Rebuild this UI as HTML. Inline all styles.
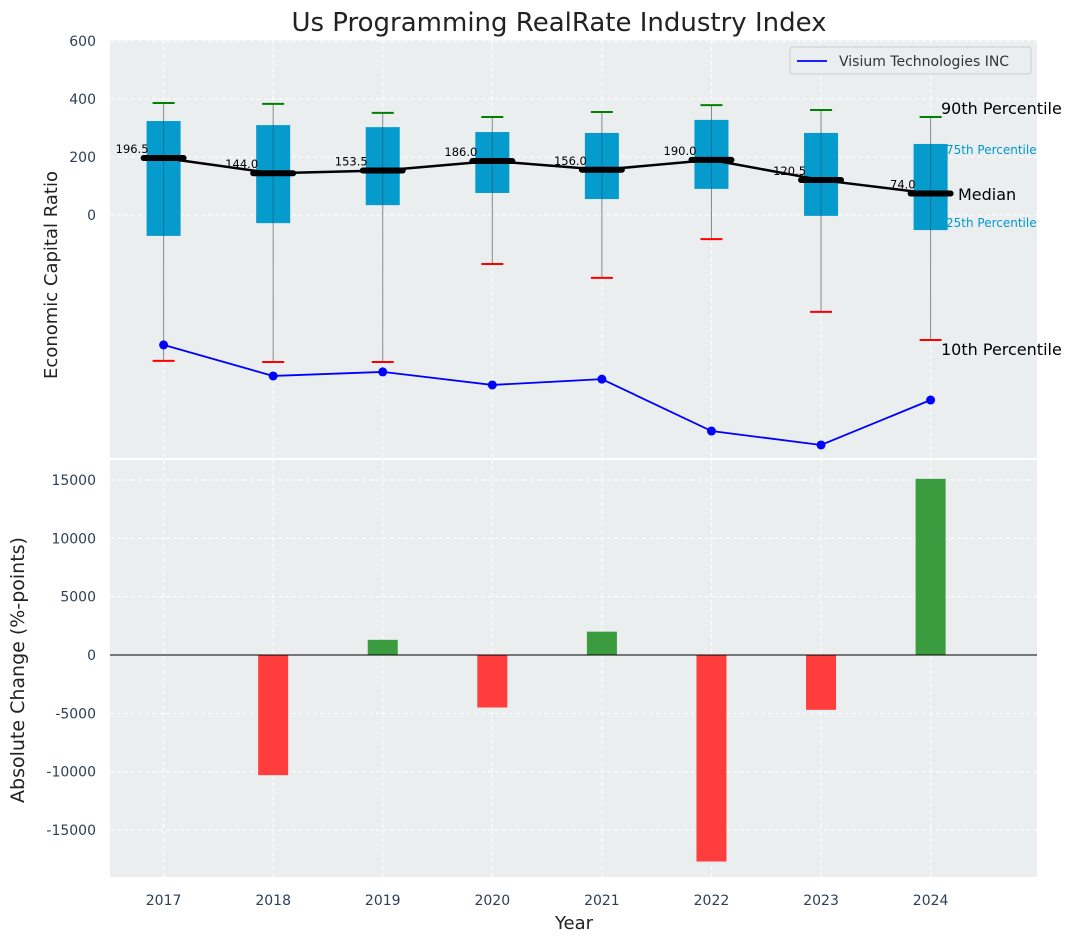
<!DOCTYPE html>
<html><head><meta charset="utf-8"><style>
body{margin:0;background:#fff;font-family:"Liberation Sans","DejaVu Sans",sans-serif}
svg text{font-family:"DejaVu Sans","Liberation Sans",sans-serif}
</style></head><body>
<svg id="c" width="1076" height="942" xmlns="http://www.w3.org/2000/svg"></svg>
<script>
const years=['2017','2018','2019','2020','2021','2022','2023','2024'];
const p10=[-503,-507,-507,-169,-217,-83,-334,-431];
const q1=[-72,-28,34,76,55,90,-3,-52];
const medians=[196.5,144.0,153.5,186.0,156.0,190.0,120.5,74.0];
const q3=[324,310,303,286,283,328,283,245];
const p90=[386,383,352,338,355,379,362,338];
const company=[-448,-555,-541,-586,-566,-745,-793,-638];
const changes=[0,-10300,1300,-4500,2000,-17700,-4700,15100];
const topTicks=[0,200,400,600];
const botTicks=[-15000,-10000,-5000,0,5000,10000,15000];

const NS='http://www.w3.org/2000/svg';
const svg=document.getElementById('c');
function el(t,a,txt){const e=document.createElementNS(NS,t);for(const k in a)e.setAttribute(k,a[k]);if(txt!==undefined)e.textContent=txt;svg.appendChild(e);return e;}
const L=110,R=1037;
const X=i=>L+1+(i+0.48)*(R-L)/8.46;
const Y1=v=>215-v*0.29;
const T2=460,B2=877;
const Y2=v=>655-v*175/15000;

let e=el('rect',{x:L,y:40,width:R-L,height:418,fill:'#eaeeef'});

e=el('rect',{x:L,y:T2,width:R-L,height:B2-T2,fill:'#eaeeef'});


years.forEach((y,i)=>{
 el('line',{x1:X(i),x2:X(i),y1:40,y2:458,stroke:'#fff','stroke-dasharray':'4,3','stroke-width':1});
 el('line',{x1:X(i),x2:X(i),y1:T2,y2:B2,stroke:'#fff','stroke-dasharray':'4,3','stroke-width':1});
 e=el('text',{x:X(i),y:905,'text-anchor':'middle','font-size':14,fill:'#2e3f55'},y);
 
});
topTicks.forEach(v=>{
 el('line',{x1:L,x2:R,y1:Y1(v),y2:Y1(v),stroke:'#fff','stroke-dasharray':'4,3'});
 e=el('text',{x:96,y:Y1(v)+5,'text-anchor':'end','font-size':14,fill:'#2e3f55'},v);
 
});
botTicks.forEach(v=>{
 el('line',{x1:L,x2:R,y1:Y2(v),y2:Y2(v),stroke:'#fff','stroke-dasharray':'4,3'});
 e=el('text',{x:96,y:Y2(v)+5,'text-anchor':'end','font-size':14,fill:'#2e3f55'},v);
 
});

years.forEach((y,i)=>{
 const x=X(i);
 e=el('line',{x1:x,x2:x,y1:Y1(p90[i]),y2:Y1(p10[i]),stroke:'#888','stroke-width':1});
 
 e=el('rect',{x:x-17,y:Y1(q3[i]),width:34,height:Y1(q1[i])-Y1(q3[i]),fill:'#0099cc','fill-opacity':0.98});
 
 el('line',{x1:x,x2:x,y1:Y1(q3[i]),y2:Y1(q1[i]),stroke:'#1a5a70','stroke-width':1,'stroke-opacity':0.6});
 e=el('line',{x1:x-11,x2:x+11,y1:Y1(p90[i]),y2:Y1(p90[i]),stroke:'green','stroke-width':2});
 
 e=el('line',{x1:x-11,x2:x+11,y1:Y1(p10[i]),y2:Y1(p10[i]),stroke:'red','stroke-width':2});
 
});
e=el('polyline',{points:medians.map((m,i)=>X(i)+','+Y1(m)).join(' '),fill:'none',stroke:'#000','stroke-width':2.5});

medians.forEach((m,i)=>{
 const x=X(i);
 e=el('line',{x1:x-20,x2:x+20,y1:Y1(m),y2:Y1(m),stroke:'#000','stroke-width':6,'stroke-linecap':'round'});
 
 e=el('text',{x:x-15,y:Y1(m)-5,'text-anchor':'end','font-size':11.5,fill:'#000'},m.toFixed(1));
 
});
e=el('polyline',{points:company.map((c,i)=>X(i)+','+Y1(c)).join(' '),fill:'none',stroke:'blue','stroke-width':1.8});

company.forEach((c,i)=>{
 e=el('circle',{cx:X(i),cy:Y1(c),r:4.5,fill:'blue'});
 
});
const ann=[['90th Percentile',941,114,16,'#000'],['75th Percentile',946,154,12,'#0099cc'],['Median',958,200,16,'#000'],['25th Percentile',946,227,12,'#0099cc'],['10th Percentile',941,355,16,'#000']];
ann.forEach(a=>{e=el('text',{x:a[1],y:a[2],'font-size':a[3],fill:a[4]},a[0]);
 });

e=el('rect',{x:790,y:47,width:241,height:27,fill:'#eaeeef',stroke:'#ccc',rx:3});

el('line',{x1:797,x2:827,y1:61,y2:61,stroke:'blue','stroke-width':1.8});
e=el('text',{x:839,y:66,'font-size':14,fill:'#333'},'Visium Technologies INC');


changes.forEach((v,i)=>{
 const y0=Y2(0),y=Y2(v);
 e=el('rect',{x:X(i)-15,y:Math.min(y0,y),width:30,height:Math.abs(y-y0),fill:v>=0?'#3a9c3f':'#ff3d3d'});
 
});
el('line',{x1:L,x2:R,y1:Y2(0),y2:Y2(0),stroke:'#000','stroke-width':1});

e=el('text',{x:559,y:31,'text-anchor':'middle','font-size':26,fill:'#222'},'Us Programming RealRate Industry Index');

e=el('text',{x:0,y:0,'text-anchor':'middle','font-size':18,fill:'#222',transform:'translate(57,275) rotate(-90)'},'Economic Capital Ratio');

e=el('text',{x:0,y:0,'text-anchor':'middle','font-size':19,fill:'#222',transform:'translate(24,670) rotate(-90)'},'Absolute Change (%-points)');

e=el('text',{x:574,y:929,'text-anchor':'middle','font-size':18,fill:'#222'},'Year');

</script>
</body></html>
